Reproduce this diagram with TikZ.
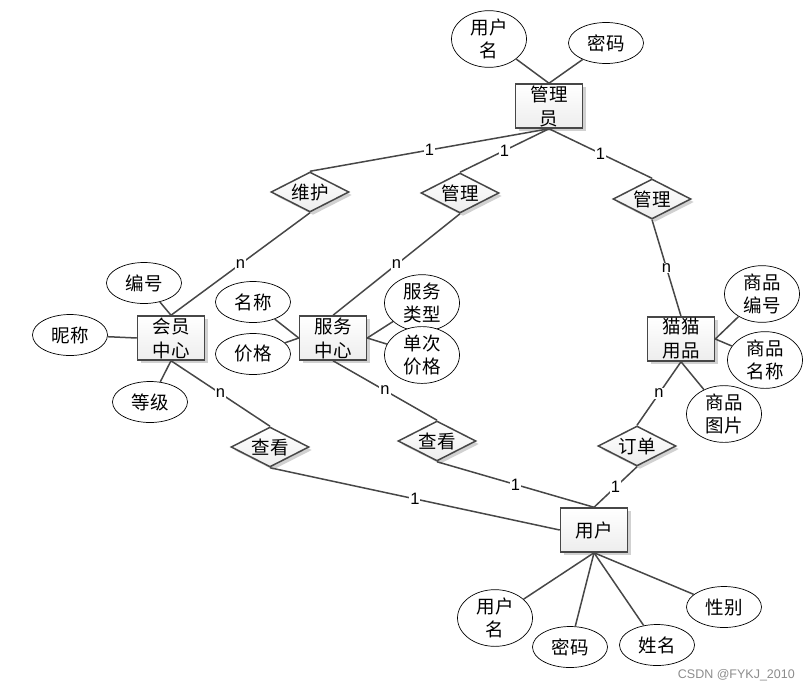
\documentclass[tikz,border=0pt]{standalone}
\usepackage{fontspec}
\newfontfamily\cjk{Noto Sans CJK SC}
\newfontfamily\lab{Liberation Sans}
\usetikzlibrary{shapes.geometric,shadows}
\begin{document}
\begin{tikzpicture}[x=1pt,y=-1pt,
 shad/.style={drop shadow={shadow xshift=3pt, shadow yshift=-3pt, fill=black!40, opacity=0.45}},
 ent/.style={shad, draw=black!72, line width=1.5pt, rectangle, minimum width=67pt, minimum height=44pt, inner sep=0pt, top color=white, bottom color=black!7, font=\cjk\fontsize{18.5}{24}\selectfont, align=center},
 rel/.style={shad, draw=black!72, line width=1.5pt, diamond, aspect=2, minimum width=78pt, minimum height=40pt, inner sep=0pt, top color=white, bottom color=black!7, font=\cjk\fontsize{18.5}{24}\selectfont},
 att/.style={draw=black, line width=0.7pt, ellipse, minimum width=75pt, minimum height=41pt, inner sep=0pt, fill=white, font=\cjk\fontsize{18.5}{23}\selectfont, align=center},
 con/.style={draw=black!72, line width=1.5pt},
 lbl/.style={fill=white, inner sep=1pt, font=\lab\fontsize{16.5}{16.5}\selectfont, pos=0.5}
]
\useasboundingbox (0,0) rectangle (810,691);

% entities
\node[ent] (adm) at (549,106) {管理\\员};
\node[ent] (hy)  at (171,338) {会员\\中心};
\node[ent] (fw)  at (333,338) {服务\\中心};
\node[ent] (mm)  at (681,339) {猫猫\\用品};
\node[ent] (yh)  at (594,530) {用户};

% relationships
\node[rel] (wh) at (310,192) {维护};
\node[rel] (gl1) at (460,193) {管理};
\node[rel] (gl2) at (652,199) {管理};
\node[rel] (ck1) at (270,447) {查看};
\node[rel] (ck2) at (437,441) {查看};
\node[rel] (dd) at (637,446) {订单};

% attributes
\node[att] (a1) at (489,39) {用户\\名};
\node[att] (a2) at (606,43) {密码};
\node[att] (h1) at (144,283) {编号};
\node[att] (h2) at (70,335) {昵称};
\node[att] (h3) at (150,402) {等级};
\node[att] (f1) at (253,302) {名称};
\node[att] (f2) at (253,354) {价格};
\node[att] (f3) at (422,303) {服务\\类型};
\node[att] (f4) at (422,355) {单次\\价格};
\node[att] (m1) at (762,294) {商品\\编号};
\node[att] (m2) at (765,360) {商品\\名称};
\node[att] (m3) at (724,414) {商品\\图片};
\node[att] (u1) at (495,618) {用户\\名};
\node[att] (u2) at (570,647) {密码};
\node[att] (u3) at (657,645) {姓名};
\node[att] (u4) at (724,607) {性别};

% connectors
\draw[con] (adm.north) -- (a1);
\draw[con] (adm.north) -- (a2);
\draw[con] (adm.south) -- node[lbl] {1} (wh.north);
\draw[con] (adm.south) -- node[lbl] {1} (gl1.north);
\draw[con] (adm.south) -- node[lbl] {1} (gl2.north);
\draw[con] (wh.south) -- node[lbl] {n} (hy.north);
\draw[con] (gl1.south) -- node[lbl] {n} (fw.north);
\draw[con] (gl2.south) -- node[lbl] {n} (mm.north);
\draw[con] (hy.south) -- node[lbl] {n} (ck1.north);
\draw[con] (fw.south) -- node[lbl] {n} (ck2.north);
\draw[con] (mm.south) -- node[lbl] {n} (dd.north);
\draw[con] (ck1.south) -- node[lbl] {1} (yh.west);
\draw[con] (ck2.south) -- node[lbl] {1} (yh.north);
\draw[con] (dd.south) -- node[lbl] {1} (yh.north);

\draw[con] (hy.north) -- (h1);
\draw[con] (hy.west) -- (h2);
\draw[con] (hy.south) -- (h3);
\draw[con] (fw.west) -- (f1);
\draw[con] (fw.west) -- (f2);
\draw[con] (fw.east) -- (f3);
\draw[con] (fw.east) -- (f4);
\draw[con] (mm.east) -- (m1);
\draw[con] (mm.east) -- (m2);
\draw[con] (mm.south) -- (m3);
\draw[con] (yh.south) -- (u1);
\draw[con] (yh.south) -- (u2);
\draw[con] (yh.south) -- (u3);
\draw[con] (yh.south) -- (u4);

\node[anchor=east, text=black!45, font=\lab\fontsize{12.5}{13}\selectfont, inner sep=0pt] (wm) at (795,675) {CSDN @FYKJ\_2010};
\end{tikzpicture}
\end{document}
